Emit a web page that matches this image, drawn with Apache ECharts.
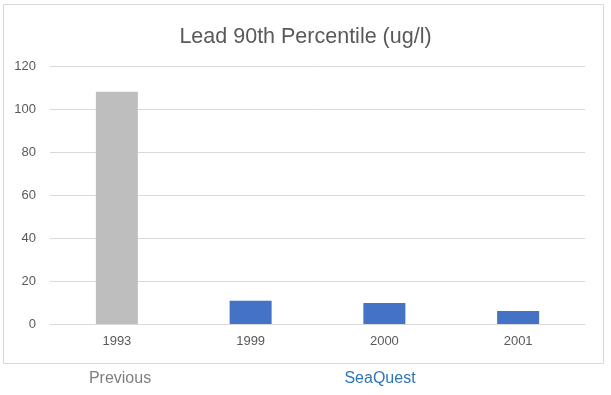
<!DOCTYPE html>
<html><head><meta charset="utf-8">
<script src="https://cdn.jsdelivr.net/npm/echarts@6/dist/echarts.min.js"></script>
<style>html,body{margin:0;padding:0;background:#fff}#c{width:611px;height:395px}</style>
</head><body><div id="c"></div>
<script>
const categories = ['1993', '1999', '2000', '2001'];
const values = [108, 10.8, 9.8, 6.1];
const barColors = ['#BEBEBE', '#4472C4', '#4472C4', '#4472C4'];
const yTicks = [0, 20, 40, 60, 80, 100, 120];
const groupLabels = ['Previous', 'SeaQuest'];
const groupColors = ['#7F7F7F', '#2E75B6'];

const chart = echarts.init(document.getElementById('c'), null, {renderer: 'canvas'});
const font = 'Liberation Sans, Arial, sans-serif';
chart.setOption({
  animation: false,
  title: {
    text: 'Lead 90th Percentile (ug/l)', left: 'center', top: 21,
    textStyle: {fontFamily: font, fontSize: 21.5, fontWeight: 'normal', color: '#595959'}
  },
  grid: {left: 50, right: 26, top: 66, bottom: 71, containLabel: false},
  xAxis: {
    type: 'category', data: categories,
    axisLine: {lineStyle: {color: '#D9D9D9'}},
    axisTick: {show: false},
    axisLabel: {fontFamily: font, fontSize: 13, color: '#595959', margin: 11}
  },
  yAxis: {
    type: 'value', min: yTicks[0], max: yTicks[yTicks.length - 1], interval: 20,
    axisLine: {show: false}, axisTick: {show: false},
    splitLine: {lineStyle: {color: '#D9D9D9'}},
    axisLabel: {fontFamily: font, fontSize: 13, color: '#595959', margin: 14}
  },
  series: [{
    type: 'bar', barWidth: 42,
    data: values.map((v, i) => ({value: v, itemStyle: {color: barColors[i]}}))
  }],
  graphic: [
    {type: 'rect', shape: {x: 3.5, y: 4.5, width: 600, height: 359}, style: {fill: 'none', stroke: '#D9D9D9', lineWidth: 1}, silent: true},
    {type: 'text', x: 120, y: 379, style: {text: groupLabels[0], fill: groupColors[0], font: '16px ' + font, textAlign: 'center', textVerticalAlign: 'middle'}},
    {type: 'text', x: 380, y: 379, style: {text: groupLabels[1], fill: groupColors[1], font: '16px ' + font, textAlign: 'center', textVerticalAlign: 'middle'}}
  ]
});
</script></body></html>
